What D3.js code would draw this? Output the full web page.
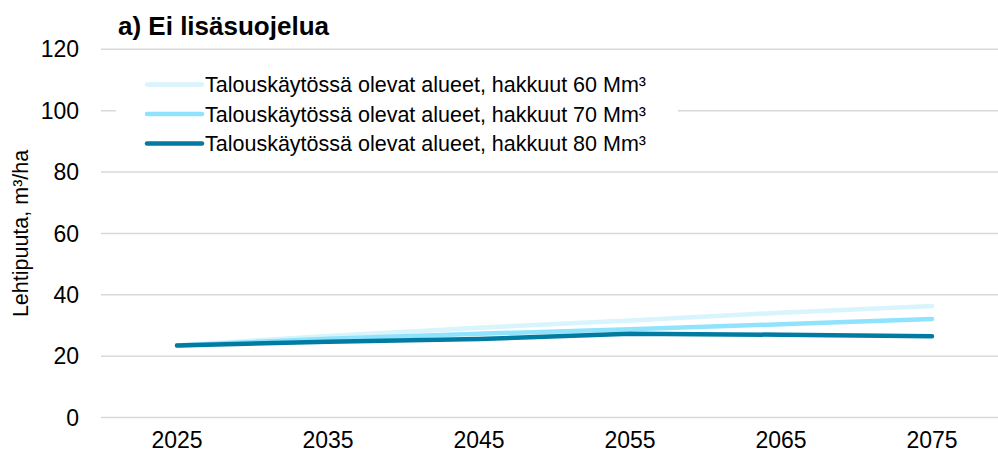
<!DOCTYPE html>
<meta charset="utf-8">
<style>
body { margin: 0; background: #fff; }
text { font-family: "Liberation Sans", Arial, sans-serif; fill: #000; }
</style>
<svg width="998" height="458"></svg>
<script src="https://d3js.org/d3.v7.min.js"></script>
<script>

var years = ["2025", "2035", "2045", "2055", "2065", "2075"];
var yTicks = [0, 20, 40, 60, 80, 100, 120];
var names = [
  "Talouskäytössä olevat alueet, hakkuut 60 Mm³",
  "Talouskäytössä olevat alueet, hakkuut 70 Mm³",
  "Talouskäytössä olevat alueet, hakkuut 80 Mm³"
];
var h60 = [23.5, 26.6, 29.3, 31.6, 34.2, 36.4];
var h70 = [23.5, 25.7, 27.3, 28.8, 30.4, 32.1];
var h80 = [23.5, 24.7, 25.6, 27.3, 27.0, 26.5];
var colors = ["#d8f4fc", "#8fe3fc", "#007ba1"];

var series = [h60, h70, h80];

var svg = d3.select("svg"),
    width = +svg.attr("width"),
    height = +svg.attr("height");

var plotLeft = 101, plotTop = 49.3, plotBottom = 417.6;

var x = d3.scalePoint()
    .domain(years)
    .range([177, 932]);

var y = d3.scaleLinear()
    .domain([0, 120])
    .range([plotBottom, plotTop]);

// gridlines
svg.append("g")
  .selectAll("line")
  .data(yTicks)
  .enter().append("line")
    .attr("x1", plotLeft)
    .attr("x2", width)
    .attr("y1", function(d) { return y(d); })
    .attr("y2", function(d) { return y(d); })
    .style("stroke", "#d9d9d9")
    .style("stroke-width", 1.5);

// y labels
svg.append("g")
  .selectAll("text")
  .data(yTicks)
  .enter().append("text")
    .attr("x", 79)
    .attr("y", function(d) { return y(d); })
    .attr("dy", "0.35em")
    .attr("text-anchor", "end")
    .style("font-size", "23px")
    .text(function(d) { return d; });

// x labels
svg.append("g")
  .selectAll("text")
  .data(years)
  .enter().append("text")
    .attr("x", function(d) { return x(d); })
    .attr("y", 448)
    .attr("text-anchor", "middle")
    .style("font-size", "23px")
    .text(function(d) { return d; });

// y axis title
svg.append("text")
    .attr("transform", "translate(28," + ((plotTop + plotBottom) / 2) + ") rotate(-90)")
    .attr("text-anchor", "middle")
    .style("font-size", "21.5px")
    .text("Lehtipuuta, m³/ha");

// title
svg.append("text")
    .attr("x", 118)
    .attr("y", 35)
    .style("font-size", "26px")
    .style("font-weight", "bold")
    .text("a) Ei lisäsuojelua");

// lines
var line = d3.line()
    .x(function(d, i) { return x(years[i]); })
    .y(function(d) { return y(d); });

svg.append("g")
  .selectAll("path")
  .data(series)
  .enter().append("path")
    .attr("d", line)
    .style("fill", "none")
    .style("stroke", function(d, i) { return colors[i]; })
    .style("stroke-width", 4.5)
    .style("stroke-linecap", "round")
    .style("stroke-linejoin", "round");

// legend
var legend = svg.append("g");

legend.append("rect")
    .attr("x", 116)
    .attr("y", 64)
    .attr("width", 562)
    .attr("height", 96)
    .style("fill", "#fff");

var row = legend.selectAll("g")
    .data(names)
    .enter().append("g")
    .attr("transform", function(d, i) { return "translate(0," + (84.5 + i * 29.5) + ")"; });

row.append("line")
    .attr("x1", 147)
    .attr("x2", 202)
    .style("stroke", function(d, i) { return colors[i]; })
    .style("stroke-width", 4.5)
    .style("stroke-linecap", "round");

row.append("text")
    .attr("x", 205)
    .attr("dy", "0.35em")
    .style("font-size", "21.5px")
    .text(function(d) { return d; });

</script>
